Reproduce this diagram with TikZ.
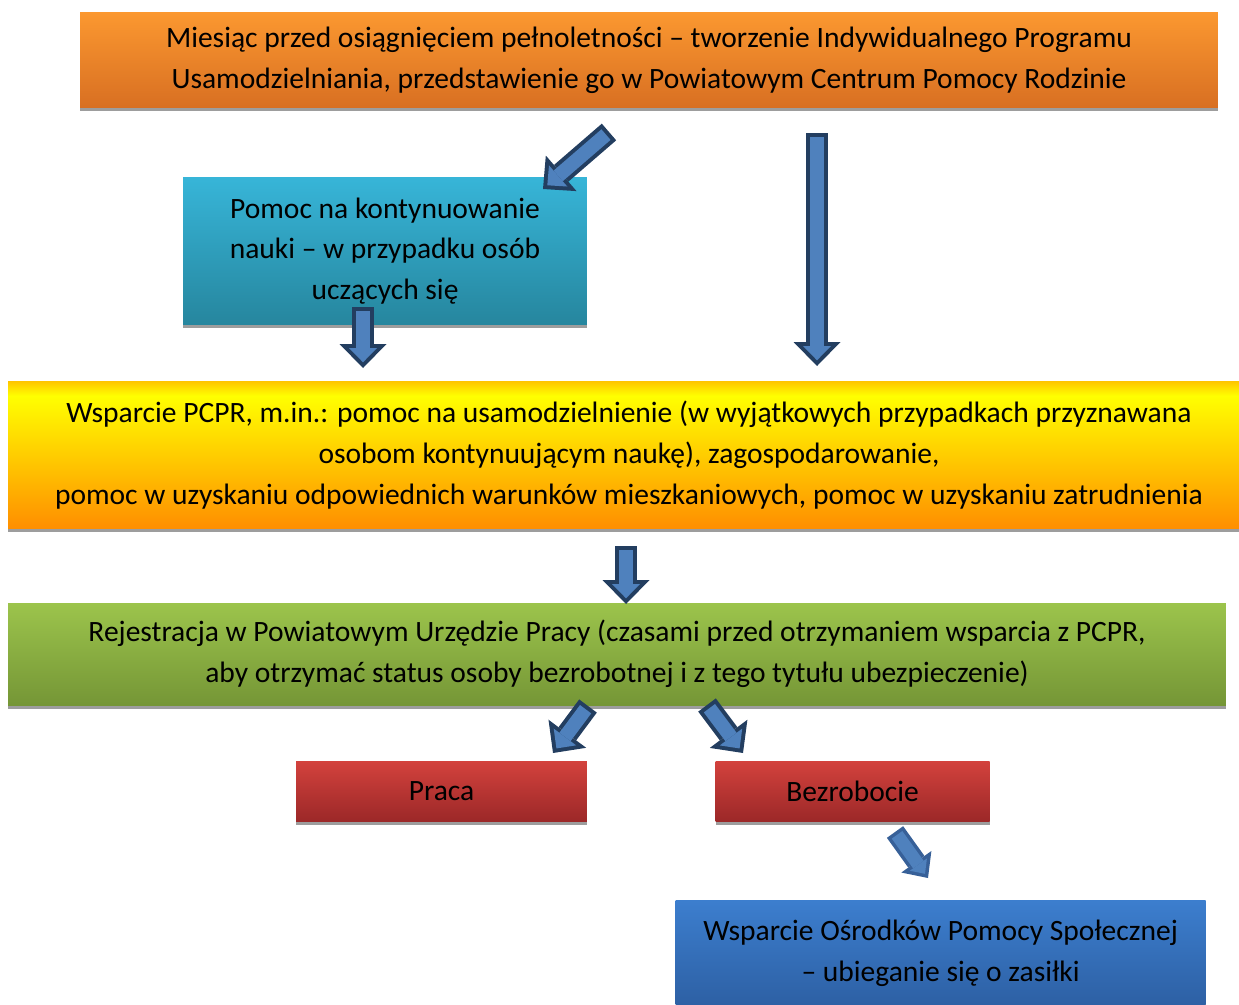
\documentclass[tikz,border=0pt]{standalone}
\usepackage{fontspec}
\setmainfont{Carlito}
\usepackage{tikz}
\usetikzlibrary{arrows.meta,positioning,shadows}
\usepackage{xcolor}
\definecolor{orangetop}{RGB}{251,152,48}
\definecolor{orangebot}{RGB}{216,111,34}
\definecolor{cyantop}{RGB}{55,181,216}
\definecolor{cyanbot}{RGB}{38,134,158}
\definecolor{yellowedge}{RGB}{255,196,0}
\definecolor{yellowmid}{RGB}{255,255,0}
\definecolor{yellowbot}{RGB}{255,142,0}
\definecolor{greentop}{RGB}{156,196,76}
\definecolor{greenbot}{RGB}{117,150,54}
\definecolor{redtop}{RGB}{211,66,61}
\definecolor{redbot}{RGB}{156,40,40}
\definecolor{bluetop}{RGB}{60,126,206}
\definecolor{bluebot}{RGB}{45,96,164}
\definecolor{arrowblue}{RGB}{79,129,189}
\definecolor{arrowdark}{RGB}{35,62,96}
\definecolor{arrowsoft}{RGB}{55,96,152}
\pgfdeclareverticalshading{yellowfade}{100bp}{color(0bp)=(yellowbot); color(25bp)=(yellowbot); color(70bp)=(yellowmid); color(75bp)=(yellowedge); color(100bp)=(yellowedge)}

\begin{document}
\begin{tikzpicture}[
    x=0.02cm, y=-0.02cm,
    box/.style={rectangle, inner sep=0pt, align=center, shading=axis,
        font=\fontsize{16.8}{23.2}\selectfont,
        drop shadow={shadow xshift=0pt, shadow yshift=-0.07cm, fill=black!55, opacity=0.7}},
    boxorange/.style={box, top color=orangetop, bottom color=orangebot},
    boxcyan/.style={box, top color=cyantop, bottom color=cyanbot},
    boxyellow/.style={box, shading=yellowfade},
    boxgreen/.style={box, top color=greentop, bottom color=greenbot},
    boxred/.style={box, top color=redtop, bottom color=redbot},
    boxblue/.style={box, top color=bluetop, bottom color=bluebot},
    fatarrow/.style={
        preaction={draw=arrowdark, line width=0.44cm, shorten <=0pt, shorten >=0pt,
            -{Triangle[length=0.48cm, width=0.94cm, line width=0pt]}},
        draw=arrowblue, line width=0.28cm, shorten <=0.08cm, shorten >=0.114cm,
        -{Triangle[length=0.286cm, width=0.56cm, line width=0pt]}},
    fatarrowsmall/.style={
        preaction={draw=arrowsoft, line width=0.40cm, shorten <=0pt, shorten >=0pt,
            -{Triangle[length=0.40cm, width=0.74cm, line width=0pt]}},
        draw=arrowblue, line width=0.26cm, shorten <=0.07cm, shorten >=0.103cm,
        -{Triangle[length=0.227cm, width=0.42cm, line width=0pt]}}
]
\useasboundingbox (0,0) rectangle (1239,1004);

% Start
\node[boxorange, minimum width=22.76cm, minimum height=1.92cm] (start) at (649,60)
    {Miesiąc przed osiągnięciem pełnoletności -- tworzenie Indywidualnego Programu\\
     Usamodzielniania, przedstawienie go w Powiatowym Centrum Pomocy Rodzinie};

% Learning branch
\node[boxcyan, minimum width=8.08cm, minimum height=2.94cm] (nauka) at (385,251)
    {Pomoc na kontynuowanie\\nauki -- w przypadku osób\\uczących się};

% PCPR support
\node[boxyellow, minimum width=24.84cm, minimum height=2.96cm] (pcpr) at (629,455)
    {Wsparcie PCPR, m.in.: pomoc na usamodzielnienie (w wyjątkowych przypadkach przyznawana\\
     osobom kontynuującym naukę), zagospodarowanie,\\
     pomoc w uzyskaniu odpowiednich warunków mieszkaniowych, pomoc w uzyskaniu zatrudnienia};

% Labour office
\node[boxgreen, minimum width=24.36cm, minimum height=2.04cm] (urzad) at (617,654)
    {Rejestracja w Powiatowym Urzędzie Pracy (czasami przed otrzymaniem wsparcia z PCPR,\\
     aby otrzymać status osoby bezrobotnej i z tego tytułu ubezpieczenie)};

% Outcomes
\node[boxred, minimum width=5.82cm, minimum height=1.2cm] (praca) at (441.5,791) {Praca};
\node[boxred, minimum width=5.48cm, minimum height=1.2cm, right=2.56cm of praca] (bezrob) {Bezrobocie};
\node[boxblue, minimum width=10.6cm, minimum height=2.1cm, below=1.58cm of bezrob.south west,
    anchor=north west, xshift=-0.8cm] (ops)
    {Wsparcie Ośrodków Pomocy Społecznej\\-- ubieganie się o zasiłki};

% Arrow ends
\coordinate (startL) at (609,132);
\coordinate (naukaIn) at (543,189);
\coordinate (startR) at (817,133);
\coordinate (pcprInR) at (817,366);
\coordinate (naukaOut) at (363,307);
\coordinate (pcprInL) at (363,368);
\coordinate (pcprOut) at (626,546);
\coordinate (urzadIn) at (626,604);
\coordinate (urzadL) at (588,706);
\coordinate (pracaIn) at (553,753);
\coordinate (urzadR) at (707,705);
\coordinate (bezrobIn) at (743,753);
\coordinate (bezrobOut) at (895,832);
\coordinate (opsIn) at (928,878);

% Arrows
\draw[fatarrow] (startL) -- (naukaIn);
\draw[fatarrow] (startR) -- (pcprInR);
\draw[fatarrow] (naukaOut) -- (pcprInL);
\draw[fatarrow] (pcprOut) -- (urzadIn);
\draw[fatarrow] (urzadL) -- (pracaIn);
\draw[fatarrow] (urzadR) -- (bezrobIn);
\draw[fatarrowsmall] (bezrobOut) -- (opsIn);

\end{tikzpicture}
\end{document}
